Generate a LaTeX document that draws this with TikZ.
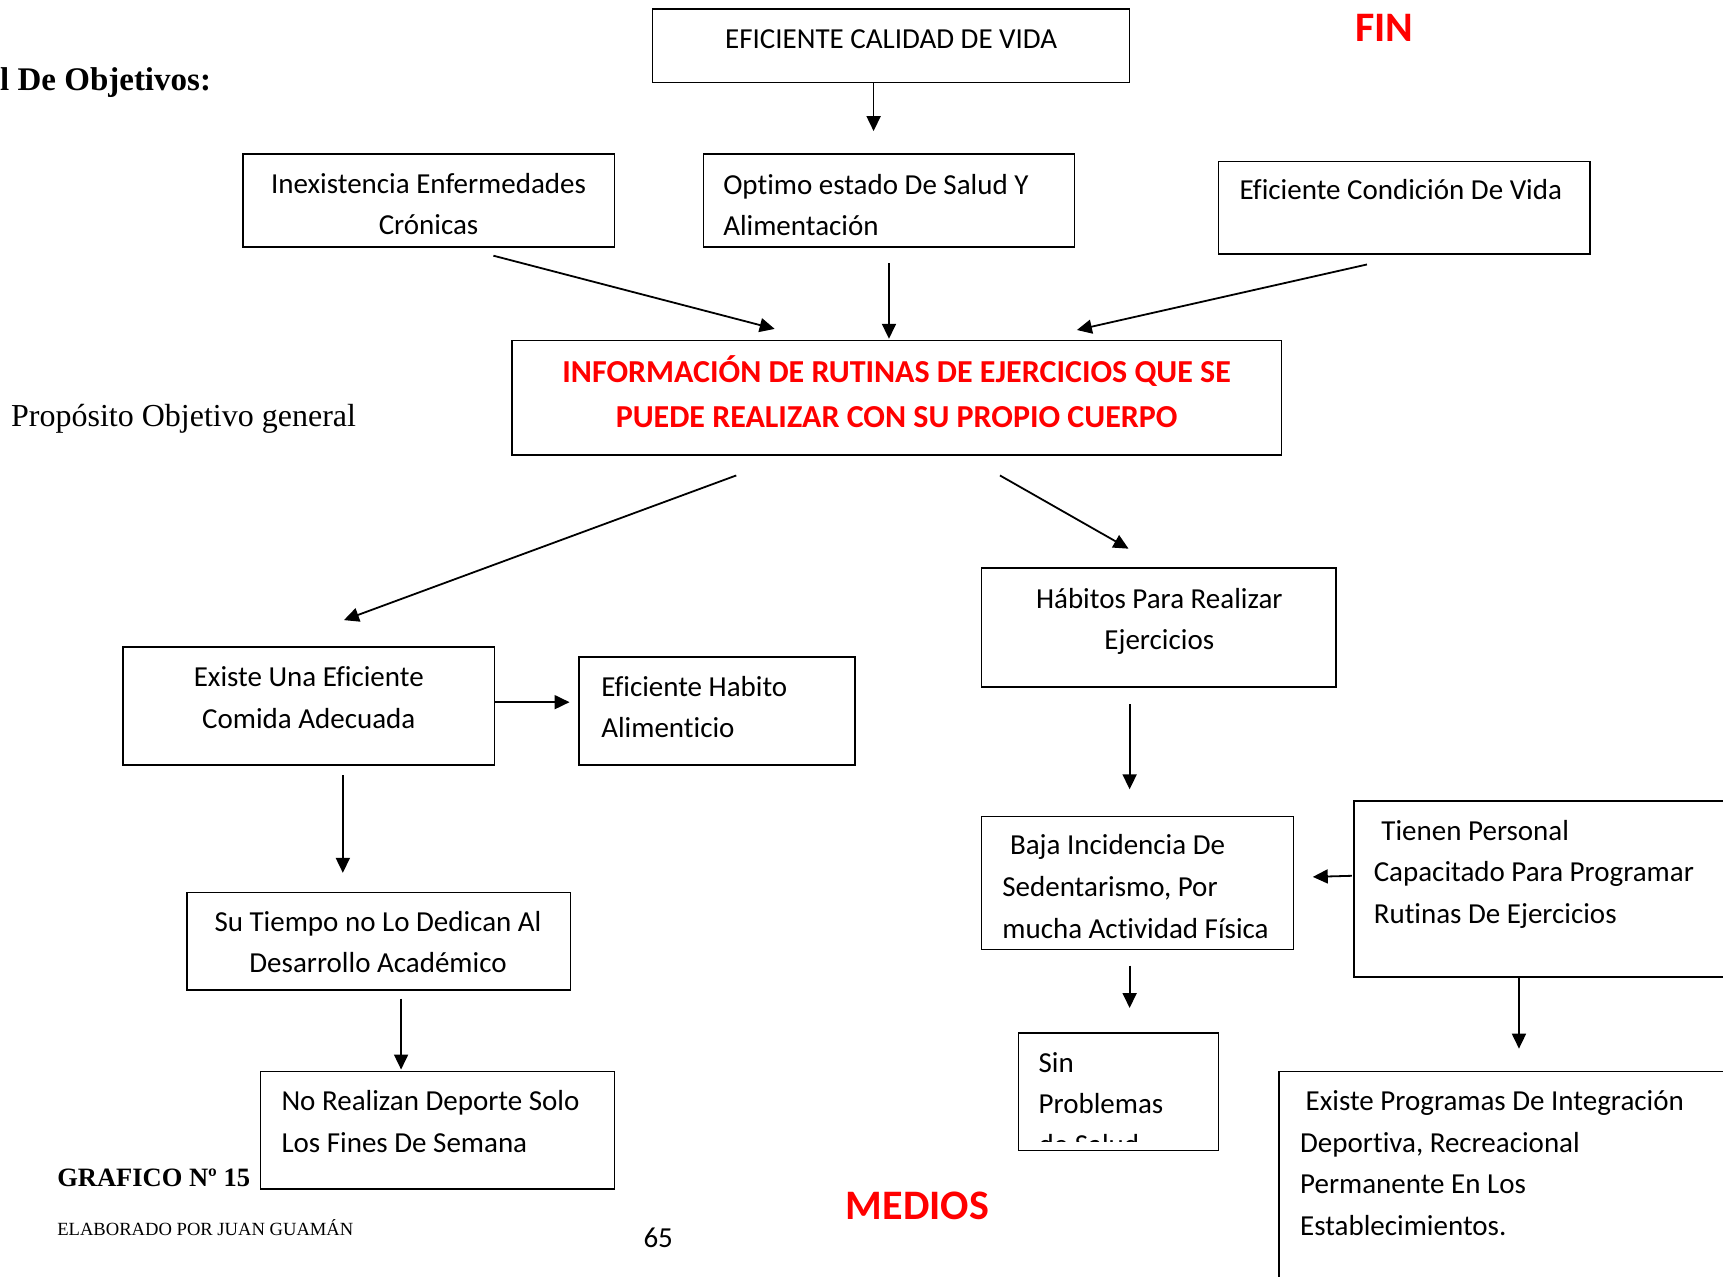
\documentclass[tikz,border=0pt]{standalone}
\usepackage{fontspec}
\setmainfont{Carlito}[Ligatures=NoCommon]
\newfontfamily\tnr{Liberation Serif}
\usetikzlibrary{fit,calc,arrows.meta}
\definecolor{rd}{RGB}{255,0,0}
\begin{document}
\begin{tikzpicture}[x=1.0989pt,y=-1.0989pt,
  box/.style={draw, line width=1.5pt, inner sep=0pt},
  txt/.style={font=\fontsize{29}{35}\selectfont, inner sep=0pt},
  L/.style={txt, anchor=base west},
  C/.style={txt, anchor=base},
  red/.style={txt, anchor=base, text=rd, font=\fontsize{32}{38}\selectfont\bfseries},
  big/.style={anchor=base, inner sep=0pt, text=rd, font=\fontsize{42}{50}\selectfont\bfseries},
  arr/.style={line width=1.8pt, -{Triangle[length=15pt,width=14pt]}}]
\useasboundingbox (0,0) rectangle (1568,1162);

% boxes
\node[box, fit={(594,8) (1028,75)}] (top) {};
\node[box, fit={(221,140) (559,225)}] (inex) {};
\node[box, fit={(640,140) (978,225)}] (optimo) {};
\node[box, fit={(1109,147) (1447,231)}] (efcond) {};
\node[box, fit={(466,310) (1166,414)}] (info) {};
\node[box, fit={(893,517) (1216,625)}] (habitos) {};
\node[box, fit={(112,589) (450,696)}] (exist) {};
\node[box, fit={(527,598) (778,696)}] (habit) {};
\node[box, fit={(170,812) (519,901)}] (tiempo) {};
\node[box, fit={(237,975) (559,1082)}] (noreal) {};
\node[box, fit={(893,743) (1177,864)}] (baja) {};
\node[box, fit={(1232,729) (1600,889)}] (tienen) {};
\node[box, fit={(927,940) (1109,1047)}] (sin) {};
\node[box, fit={(1164,975) (1600,1200)}] (progs) {};

% texts
\node[C] (t1) at (811,44) {EFICIENTE CALIDAD DE VIDA};
\node[C] (t2a) at (390,176) {Inexistencia Enfermedades};
\node[C] (t2b) at (390,213) {Crónicas};
\node[L] (t3a) at (658,177) {Optimo estado De Salud Y};
\node[L] (t3b) at (658,214) {Alimentación};
\node[L] (t4) at (1128,182) {Eficiente Condición De Vida};
\node[red] (t5a) at (816,348) {INFORMACIÓN DE RUTINAS DE EJERCICIOS QUE SE};
\node[red] (t5b) at (816,389) {PUEDE REALIZAR CON SU PROPIO CUERPO};
\node[C] (t6a) at (1055,554) {Hábitos Para Realizar};
\node[C] (t6b) at (1055,591) {Ejercicios};
\node[C] (t7a) at (281,625) {Existe Una Eficiente};
\node[C] (t7b) at (281,663) {Comida Adecuada};
\node[L] (t8a) at (547,634) {Eficiente Habito};
\node[L] (t8b) at (547,671) {Alimenticio};
\node[C] (t9a) at (344,848) {Su Tiempo no Lo Dedican Al};
\node[C] (t9b) at (344,885) {Desarrollo Académico};
\node[L] (t10a) at (256,1011) {No Realizan Deporte Solo};
\node[L] (t10b) at (256,1049) {Los Fines De Semana};
\node[L] (t11a) at (919,778) {Baja Incidencia De};
\node[L] (t11b) at (912,816) {Sedentarismo, Por};
\node[L] (t11c) at (912,854) {mucha Actividad Física};
\node[L] (t12a) at (1257,765) {Tienen Personal};
\node[L] (t12b) at (1250,802) {Capacitado Para Programar};
\node[L] (t12c) at (1250,840) {Rutinas De Ejercicios};
\node[L] (t13a) at (945,976) {Sin};
\node[L] (t13b) at (945,1013) {Problemas};
\begin{scope}
\clip (928,941) rectangle (1108,1039);
\node[L] (t13c) at (945,1051) {de Salud};
\end{scope}
\node[L] (t14a) at (1188,1011) {Existe Programas De Integración};
\node[L] (t14b) at (1183,1049) {Deportiva, Recreacional};
\node[L] (t14c) at (1183,1086) {Permanente En Los};
\node[L] (t14d) at (1183,1124) {Establecimientos.};

% outside labels
\node[big] (fin) at (1260,38) {FIN};
\node[big] (medios) at (835,1110) {MEDIOS};
\node[anchor=base west, inner sep=0pt, font=\tnr\fontsize{33}{40}\selectfont\bfseries] (titulo) at (0,82) {l De Objetivos:};
\node[anchor=base west, inner sep=0pt, font=\tnr\fontsize{32}{38}\selectfont] (prop) at (10,388) {Propósito Objetivo general};
\node[anchor=base west, inner sep=0pt, font=\tnr\fontsize{26.5}{30}\selectfont\bfseries] (graf) at (52,1080) {GRAFICO Nº 15};
\node[anchor=base west, inner sep=0pt, font=\tnr\fontsize{18.6}{22}\selectfont] (elab) at (52,1124) {ELABORADO POR JUAN GUAMÁN};
\node[C] (page) at (599,1135) {65};

% arrows
\draw[arr] ($(top.south)+(-16,0)$) -- ($(optimo.north)+(-14,-20)$);
\draw[arr] ($(inex.south)+(59,7)$) -- ($(info.north)+(-111,-10)$);
\draw[arr] ($(optimo.south)+(0,14)$) -- ($(info.north)+(-7,-1)$);
\draw[arr] ($(efcond.south)+(-34,9)$) -- ($(info.north)+(164,-9)$);
\draw[arr] ($(info.south)+(-146,18)$) -- ($(exist.north)+(32,-24)$);
\draw[arr] ($(info.south)+(94,18)$) -- ($(habitos.north)+(-27.5,-17)$);
\draw[arr] ($(exist.east)+(0,-3.5)$) -- ($(habit.west)+(-8,-8)$);
\draw[arr] ($(exist.south)+(31,9)$) -- ($(tiempo.north)+(-32.5,-17)$);
\draw[arr] ($(habitos.south)+(-26.5,15)$) -- ($(baja.north)+(-7,-24)$);
\draw[arr] ($(tiempo.south)+(20.5,7)$) -- ($(noreal.north)+(-33,-1)$);
\draw[arr] ($(tienen.west)+(-1,-12)$) -- ($(baja.east)+(17,-5.5)$);
\draw[arr] ($(baja.south)+(-7,14)$) -- ($(sin.north)+(10,-22)$);
\draw[arr] ($(tienen.south west)+(151,0)$) -- ($(progs.north west)+(219,-20)$);
\end{tikzpicture}
\end{document}
